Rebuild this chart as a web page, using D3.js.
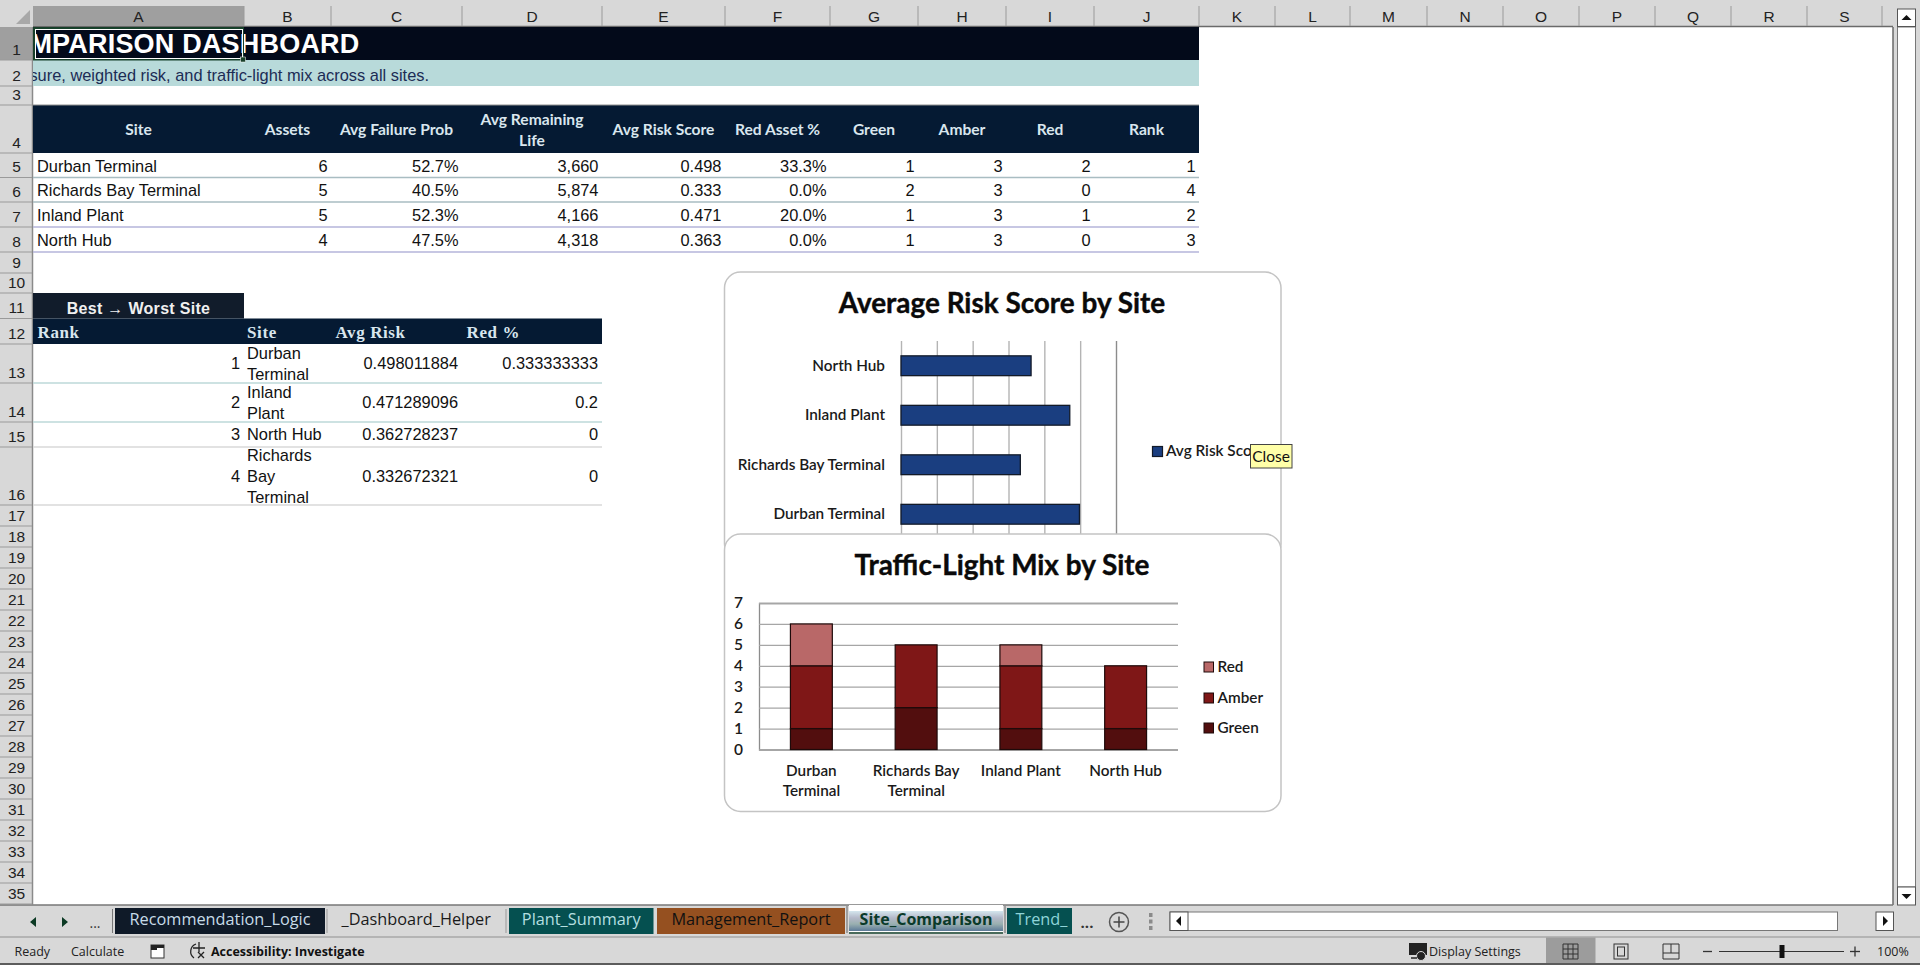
<!DOCTYPE html>
<html>
<head>
<meta charset="utf-8">
<title>Site Comparison</title>
<script src="https://cdn.jsdelivr.net/npm/d3@7"></script>
<style>
html, body { margin: 0; padding: 0; background: #d8d8d8; overflow: hidden; }
svg { display: block; }
</style>
</head>
<body>
<div id="sheet"></div>
<script>
// site table
var sites = ["Durban Terminal", "Richards Bay Terminal", "Inland Plant", "North Hub"];
var assets = [6, 5, 5, 4];
var failProb = ["52.7%", "40.5%", "52.3%", "47.5%"];
var remainLife = ["3,660", "5,874", "4,166", "4,318"];
var riskScore = [0.498, 0.333, 0.471, 0.363];
var redAssetPct = ["33.3%", "0.0%", "20.0%", "0.0%"];
var green = [1, 2, 1, 1];
var amber = [3, 3, 3, 3];
var red = [2, 0, 1, 0];
var rank = [1, 4, 2, 3];
var siteHeaders = ["Site", "Assets", "Avg Failure Prob", ["Avg Remaining", "Life"], "Avg Risk Score", "Red Asset %", "Green", "Amber", "Red", "Rank"];

// best to worst table
var rankHeaders = ["Rank", "Site", "Avg Risk", "Red %"];
var rankNums = [1, 2, 3, 4];
var rankSites = [["Durban", "Terminal"], ["Inland", "Plant"], ["North Hub"], ["Richards", "Bay", "Terminal"]];
var rankRisk = ["0.498011884", "0.471289096", "0.362728237", "0.332672321"];
var rankRed = ["0.333333333", "0.2", "0", "0"];

// chart data
var riskSites = ["North Hub", "Inland Plant", "Richards Bay Terminal", "Durban Terminal"];
var riskValues = [0.363, 0.471, 0.333, 0.498];
var mixLabels = [["Durban", "Terminal"], ["Richards Bay", "Terminal"], ["Inland Plant"], ["North Hub"]];
var mixKeys = ["Green", "Amber", "Red"];
var mixColors = ["#520e0e", "#7f1717", "#b96868"];

var colLetters = "ABCDEFGHIJKLMNOPQRS".split("");
var colEdges = [33, 244, 331, 462, 602, 725, 830, 918, 1006, 1094, 1199, 1275, 1350, 1427, 1503, 1579, 1655, 1731, 1807, 1882];
var rowEdges = [27, 60, 86, 105, 153, 177.5, 202, 227, 252, 273, 293, 318.5, 344, 383, 422, 447, 505, 526, 547, 568, 589, 610, 631, 652, 673, 694, 715, 736, 757, 778, 799, 820, 841, 862, 883, 904];

var ARIAL = "'Liberation Sans', Arial, sans-serif";
var CALIBRI = "Lato, Carlito, sans-serif";
var SEGOE = "'Open Sans', 'Noto Sans', sans-serif";
var CELL = 16.4;

var svg = d3.select("#sheet").append("svg").attr("width", 1920).attr("height", 965);

function txt(g, x, y, s, o) {
    o = o || {};
    var t = g.append("text").attr("x", x).attr("y", y).attr("dy", "0.35em")
        .attr("font-family", o.font || ARIAL)
        .attr("font-size", o.size || CELL)
        .attr("font-weight", o.weight || "normal")
        .attr("fill", o.fill || "#111")
        .attr("text-anchor", o.anchor || "start")
        .text(s);
    if (o.spacing) t.attr("letter-spacing", o.spacing);
    return t;
}
function box(g, x0, y0, x1, y1, fill, stroke, sw) {
    return g.append("rect").attr("x", x0).attr("y", y0).attr("width", x1 - x0).attr("height", y1 - y0)
        .attr("fill", fill || "none").attr("stroke", stroke || "none").attr("stroke-width", sw || 1);
}
function line(g, x0, y0, x1, y1, stroke, sw) {
    return g.append("line").attr("x1", x0).attr("y1", y0).attr("x2", x1).attr("y2", y1)
        .attr("stroke", stroke).attr("stroke-width", sw || 1);
}

svg.append("defs").append("clipPath").attr("id", "gridClip")
    .append("rect").attr("x", 33).attr("y", 27).attr("width", 1860).attr("height", 878);

/* ---------- sheet frame ---------- */
var frame = svg.append("g");
box(frame, 0, 0, 1920, 965, "#d8d8d8");
box(frame, 33, 27, 1893, 905, "#ffffff");
line(frame, 33, 26.5, 1893, 26.5, "#6a6a6a", 1.5);
line(frame, 1893, 27, 1893, 905, "#6a6a6a", 1.5);
line(frame, 0, 905, 1893, 905, "#777", 1.5);
line(frame, 32.5, 27, 32.5, 905, "#8a8a8a", 1.5);

// corner triangle
frame.append("path").attr("d", "M30 10 L30 24 L16 24 Z").attr("fill", "#a8a8a8");

// column headers
box(frame, colEdges[0], 6, colEdges[1], 26, "#9f9f9f");
colLetters.forEach(function(c, i) {
    var x0 = colEdges[i], x1 = colEdges[i + 1];
    txt(frame, (x0 + x1) / 2, 17, c, { anchor: "middle", fill: "#222", size: 15.5 });
    line(frame, x1, 6, x1, 26, "#9a9a9a", 1);
});

// row headers
box(frame, 0, rowEdges[0], 32, rowEdges[1], "#9f9f9f");
d3.range(35).forEach(function(i) {
    var y1 = rowEdges[i + 1];
    txt(frame, 16.5, y1 - 10.5, i + 1, { anchor: "middle", fill: "#222", size: 15.5 });
    line(frame, 0, y1, 32, y1, "#9a9a9a", 1);
});

/* ---------- banner rows ---------- */
var cells = svg.append("g").attr("clip-path", "url(#gridClip)");
box(cells, 33, rowEdges[0], 1199, rowEdges[1], "#030a1a");
box(cells, 33, rowEdges[1], 1199, rowEdges[2], "#b8dada");
txt(cells, 359.5, 43.5, "MPARISON DASHBOARD", { anchor: "end", size: 27, weight: "bold", fill: "#ffffff", spacing: 0.2 });
txt(cells, 429, 75, "sure, weighted risk, and traffic-light mix across all sites.", { anchor: "end", fill: "#1c2c55", size: 16.4 });

/* ---------- site table ---------- */
box(cells, 33, 105, 1199, 153, "#051a33");
line(cells, 33, 105, 1199, 105, "#8f8f8f", 1);
siteHeaders.forEach(function(h, i) {
    var cx = (colEdges[i] + colEdges[i + 1]) / 2;
    var o = { anchor: "middle", font: CALIBRI, weight: "bold", fill: "#d9e6ee", size: 15.6 };
    if (Array.isArray(h)) {
        txt(cells, cx, 120, h[0], o);
        txt(cells, cx, 140.5, h[1], o);
    } else {
        txt(cells, cx, 129.5, h, o);
    }
});
var siteRowLines = ["#a9bdc2", "#a9bdc2", "#b4b4da", "#b4b4da"];
sites.forEach(function(s, i) {
    var y0 = rowEdges[4 + i], y1 = rowEdges[5 + i], cy = y0 + 13;
    txt(cells, 37, cy, s);
    var vals = [assets[i], failProb[i], remainLife[i], riskScore[i].toFixed(3), redAssetPct[i], green[i], amber[i], red[i], rank[i]];
    vals.forEach(function(v, j) {
        txt(cells, colEdges[j + 2] - 3.5, cy, v, { anchor: "end" });
    });
    line(cells, 33, y1, 1199, y1, siteRowLines[i], 1.5);
});

/* ---------- best to worst table ---------- */
box(cells, 33, 293, 244, 318.5, "#111c2b");
txt(cells, 138.5, 308, "Best \u2192 Worst Site", { anchor: "middle", weight: "bold", fill: "#f0f0f0", size: 16, spacing: 0.3 });
box(cells, 33, 318.5, 602, 344, "#051a33");
var rankHeadX = [37.5, 247, 335.5, 466.5];
rankHeaders.forEach(function(h, i) {
    txt(cells, rankHeadX[i], 332.5, h, { font: "'Liberation Serif', serif", size: 17, weight: "bold", fill: "#d9e6ee", spacing: 0.6 });
});
var rankLines = ["#bcd9d9", "#bcd9d9", "#d9d9d9", "#d9d9d9"];
rankNums.forEach(function(n, i) {
    var y0 = rowEdges[12 + i], y1 = rowEdges[13 + i], cy = (y0 + y1) / 2;
    txt(cells, 240, cy, n, { anchor: "end" });
    txt(cells, 458, cy, rankRisk[i], { anchor: "end" });
    txt(cells, 598, cy, rankRed[i], { anchor: "end" });
    var lines = rankSites[i];
    lines.forEach(function(l, k) {
        txt(cells, 247, cy + (k - (lines.length - 1) / 2) * 21, l);
    });
    line(cells, 33, y1, 602, y1, rankLines[i], 1.5);
});

// selected cell A1
box(cells, 34, 28, 243, 59.5, "none", "#17402a", 2);
box(cells, 35.5, 29.5, 242.5, 58.5, "none", "#ffffff", 1);
box(svg, 240.5, 57, 245.5, 62, "#17402a", "#ffffff", 0.5);

/* ---------- chart 1: average risk ---------- */
var c1 = svg.append("g");
box(c1, 724.5, 272, 1281, 560, "#ffffff", "#c4c4c4", 1.5).attr("rx", 16);
txt(c1, 1002, 303, "Average Risk Score by Site", { anchor: "middle", font: CALIBRI, size: 27.9, weight: "bold", fill: "#0a0a0a" })
    .attr("stroke", "#0a0a0a").attr("stroke-width", 0.4);

var xRisk = d3.scaleLinear().domain([0, 0.6]).range([901, 1116]);
var yRisk = d3.scaleBand().domain(riskSites).range([341, 539]).paddingInner(0.6).paddingOuter(0.3);

c1.append("g").attr("transform", "translate(0,341)")
    .call(d3.axisBottom(xRisk).ticks(6).tickSize(198).tickFormat(""))
    .call(function(g) {
        g.select(".domain").remove();
        g.selectAll("line").attr("stroke", function(d) { return d >= 0.6 ? "#8c8c8c" : "#b4b4b4"; }).attr("stroke-width", 1.4);
    });

c1.selectAll("rect.bar").data(riskSites).enter().append("rect").attr("class", "bar")
    .attr("x", xRisk(0))
    .attr("y", function(d) { return yRisk(d); })
    .attr("width", function(d, i) { return xRisk(riskValues[i]) - xRisk(0); })
    .attr("height", yRisk.bandwidth())
    .attr("fill", "#1a3e80").attr("stroke", "#121a28").attr("stroke-width", 1.3);

c1.append("g").attr("transform", "translate(901,0)")
    .call(d3.axisLeft(yRisk).tickSize(0).tickPadding(16))
    .call(function(g) {
        g.select(".domain").remove();
        g.selectAll("text").attr("font-family", CALIBRI).attr("font-size", 15.3).attr("font-weight", 600).attr("fill", "#1a1a1a");
    });

box(c1, 1152.5, 446.5, 1162.5, 456.5, "#1a3e80", "#121a28", 1.2);
txt(c1, 1166, 451, "Avg Risk Sco", { font: CALIBRI, size: 15.3, weight: 600, fill: "#1a1a1a" });

/* ---------- chart 2: traffic light mix ---------- */
var c2 = svg.append("g");
box(c2, 724.5, 534, 1281, 811.5, "#ffffff", "#c4c4c4", 1.5).attr("rx", 16);
txt(c2, 1002, 565, "Traffic-Light Mix by Site", { anchor: "middle", font: CALIBRI, size: 27.9, weight: "bold", fill: "#0a0a0a" })
    .attr("stroke", "#0a0a0a").attr("stroke-width", 0.4);

var mixRows = sites.map(function(s, i) { return { site: s, Green: green[i], Amber: amber[i], Red: red[i] }; });
var xMix = d3.scaleBand().domain(sites).range([759, 1178]).padding(0.6).paddingOuter(0.3);
var yMix = d3.scaleLinear().domain([0, 7]).range([749.5, 603]);
var mixColor = d3.scaleOrdinal().domain(mixKeys).range(mixColors);

c2.append("g").attr("transform", "translate(759,0)")
    .call(d3.axisLeft(yMix).ticks(7).tickSize(-419).tickPadding(16).tickFormat(d3.format("d")))
    .call(function(g) {
        g.select(".domain").attr("stroke", "#8c8c8c").attr("stroke-width", 1.3);
        g.selectAll("line").attr("stroke", "#a6a6a6").attr("stroke-width", 1.3);
        g.selectAll("text").attr("font-family", CALIBRI).attr("font-size", 15.5).attr("font-weight", 600).attr("fill", "#1a1a1a");
    });

c2.selectAll("g.layer").data(d3.stack().keys(mixKeys)(mixRows)).enter().append("g").attr("class", "layer")
    .attr("fill", function(d) { return mixColor(d.key); })
    .selectAll("rect").data(function(d) { return d.filter(function(p) { return p[1] > p[0]; }); }).enter().append("rect")
    .attr("x", function(p) { return xMix(p.data.site); })
    .attr("y", function(p) { return yMix(p[1]); })
    .attr("width", xMix.bandwidth())
    .attr("height", function(p) { return yMix(p[0]) - yMix(p[1]); })
    .attr("stroke", "#1e0a0a").attr("stroke-width", 1.2);

sites.forEach(function(s, i) {
    var cx = xMix(s) + xMix.bandwidth() / 2;
    mixLabels[i].forEach(function(l, k) {
        txt(c2, cx, 770.5 + k * 20, l, { anchor: "middle", font: CALIBRI, size: 15.3, weight: 600, fill: "#1a1a1a" });
    });
});

var legendRows = [{ k: "Red", y: 667 }, { k: "Amber", y: 698 }, { k: "Green", y: 728 }];
legendRows.forEach(function(r) {
    box(c2, 1204, r.y - 5, 1213.5, r.y + 5, mixColor(r.k), "#1e0a0a", 1);
    txt(c2, 1217.5, r.y, r.k, { font: CALIBRI, size: 15.3, weight: 600, fill: "#1a1a1a" });
});

/* tooltip sits over both charts */
box(svg, 1250.5, 444.5, 1292, 468, "#ffffa8", "#444", 1);
txt(svg, 1271, 457, "Close", { anchor: "middle", font: CALIBRI, size: 15.5, fill: "#111" });

/* ---------- vertical scroll bar ---------- */
var vs = svg.append("g");
box(vs, 1897.5, 27, 1915.5, 887, "#ffffff", "#777", 1);
box(vs, 1897.5, 9, 1915.5, 26.5, "#ffffff", "#555", 1);
box(vs, 1897.5, 887, 1915.5, 905, "#ffffff", "#555", 1);
vs.append("path").attr("d", "M1901.5 20 L1906.5 15 L1911.5 20 Z").attr("fill", "#111");
vs.append("path").attr("d", "M1901.5 894 L1906.5 899 L1911.5 894 Z").attr("fill", "#111");

/* ---------- sheet tabs ---------- */
var tabs = svg.append("g");
var tabNames = ["Recommendation_Logic", "_Dashboard_Helper", "Plant_Summary", "Management_Report", "Site_Comparison", "Trend_"];
var tabEdges = [[115, 325], [328.5, 504], [509, 653.5], [657, 845], [849, 1003], [1007, 1072]];
var tabFills = ["#0f1a28", "none", "#055050", "#955020", "url(#activeTab)", "#055050"];
var tabInk = ["#c8dce8", "#1a1a1a", "#b5dfe0", "#111111", "#0a3a2a", "#8fd4d8"];

var grad = svg.select("defs").append("linearGradient").attr("id", "activeTab").attr("x1", 0).attr("x2", 0).attr("y1", 0).attr("y2", 1);
[["0%", "#d4e6ee"], ["35%", "#b4b8c8"], ["65%", "#9ab0b0"], ["100%", "#5d7a98"]].forEach(function(s) {
    grad.append("stop").attr("offset", s[0]).attr("stop-color", s[1]);
});

line(tabs, 0, 937, 1920, 937, "#a8a8a8", 1.5);
tabs.append("path").attr("d", "M30 922 L36 917 L36 927 Z M62 917 L68 922 L62 927 Z").attr("fill", "#0c3a24");
txt(tabs, 95, 923, "...", { anchor: "middle", font: SEGOE, size: 14, fill: "#333" });
line(tabs, 112.5, 909, 112.5, 933, "#777", 1);

box(tabs, 849, 905, 1003, 934, "#ffffff");
line(tabs, 847, 906, 847, 933, "#666", 1);
line(tabs, 1005, 906, 1005, 933, "#666", 1);
tabNames.forEach(function(n, i) {
    var x0 = tabEdges[i][0], x1 = tabEdges[i][1];
    var active = i === 4;
    box(tabs, x0, active ? 911 : 908, x1, active ? 931 : 934, tabFills[i]);
    txt(tabs, (x0 + x1) / 2 + (i === 5 ? 2 : 0), 919, n, { anchor: "middle", font: SEGOE, size: active ? 16 : 16.3, fill: tabInk[i], weight: active ? "bold" : "normal" });
    if (i === 1) {
        line(tabs, x0 - 1.5, 909, x0 - 1.5, 933, "#999", 1);
        line(tabs, x1 + 2, 909, x1 + 2, 933, "#999", 1);
    }
});
line(tabs, 849, 933, 1003, 933, "#0c3a24", 1.5);

txt(tabs, 1087, 923, "...", { anchor: "middle", font: SEGOE, size: 15, weight: "bold", fill: "#333" });
tabs.append("circle").attr("cx", 1119).attr("cy", 922).attr("r", 9.5).attr("fill", "none").attr("stroke", "#555").attr("stroke-width", 1.5);
line(tabs, 1113.5, 922, 1124.5, 922, "#444", 1.5);
line(tabs, 1119, 916.5, 1119, 927.5, "#444", 1.5);
[915, 921.5, 928].forEach(function(y) { box(tabs, 1149, y - 2, 1152.5, y + 2, "#8a8a8a"); });

box(tabs, 1170, 912, 1837.5, 930.5, "#ffffff", "#777", 1);
box(tabs, 1170, 912, 1188, 930.5, "#ffffff", "#555", 1);
tabs.append("path").attr("d", "M1176 921 L1181 916 L1181 926 Z").attr("fill", "#111");
box(tabs, 1876, 912, 1893.5, 930.5, "#ffffff", "#555", 1);
tabs.append("path").attr("d", "M1883 916 L1888 921 L1883 926 Z").attr("fill", "#111");

/* ---------- status bar ---------- */
var st = svg.append("g");
var statusSize = 12.5;
txt(st, 14.5, 951.5, "Ready", { font: SEGOE, size: statusSize, fill: "#222" });
txt(st, 71, 951.5, "Calculate", { font: SEGOE, size: statusSize, fill: "#222" });
box(st, 151, 945, 164, 958, "#ffffff", "#333", 1);
box(st, 151, 945, 157, 950, "#222");
box(st, 157, 945, 164, 948, "#222");
st.append("path").attr("d", "M196 944 A8 8 0 0 0 194 958 M199 942 L199 952 M193 948 L205 948 M198 952 L204 958 M204 952 L198 958")
    .attr("fill", "none").attr("stroke", "#222").attr("stroke-width", 1.3);
txt(st, 211, 951.5, "Accessibility: Investigate", { font: SEGOE, size: 12.5, weight: "bold", fill: "#111" });

box(st, 1409, 943, 1427, 955, "#222");
st.append("circle").attr("cx", 1421).attr("cy", 956).attr("r", 4.5).attr("fill", "#222").attr("stroke", "#d8d8d8").attr("stroke-width", 1);
line(st, 1411, 958, 1417, 958, "#222", 1.5);
txt(st, 1429, 951.5, "Display Settings", { font: SEGOE, size: statusSize, fill: "#222" });

box(st, 1546, 937.5, 1595.5, 963, "#9c9c9c");
// normal view icon
var cellsX = d3.range(4).map(function(i) { return 1563 + i * 5; });
var cellsY = d3.range(4).map(function(i) { return 944 + i * 5; });
cellsX.forEach(function(x) { line(st, x, 944, x, 959, "#333", 1); });
cellsY.forEach(function(y) { line(st, 1563, y, 1578, y, "#333", 1); });
// page layout icon
box(st, 1614, 944, 1628, 959, "none", "#333", 1);
box(st, 1617.5, 947, 1624.5, 956, "none", "#333", 1);
// page break icon
st.append("path").attr("d", "M1663 959 L1663 944 L1679 944 L1679 959 L1663 959 M1671 944 L1671 953 L1663 953 M1671 953 L1679 953")
    .attr("fill", "none").attr("stroke", "#333").attr("stroke-width", 1);

line(st, 1703, 951.5, 1712, 951.5, "#333", 1.3);
line(st, 1719, 951.5, 1844, 951.5, "#333", 1);
box(st, 1779.5, 945, 1784.5, 958, "#111");
line(st, 1850, 951.5, 1860, 951.5, "#333", 1.3);
line(st, 1855, 946.5, 1855, 956.5, "#333", 1.3);
txt(st, 1877, 951.5, "100%", { font: SEGOE, size: statusSize, fill: "#222" });
line(st, 0, 964, 1920, 964, "#333", 1.5);
</script>
</body>
</html>
